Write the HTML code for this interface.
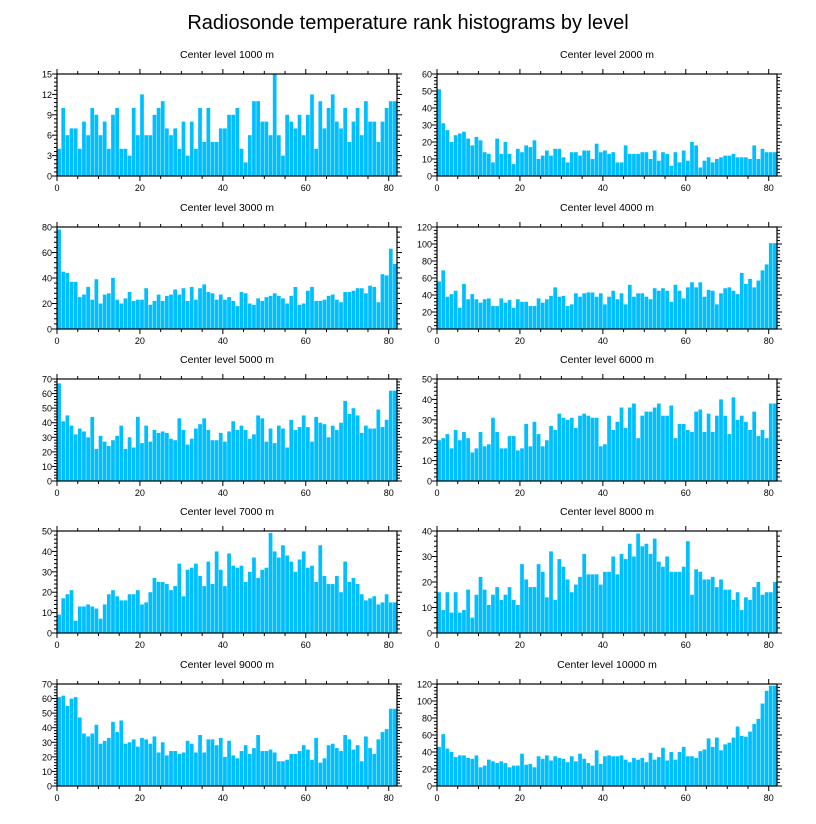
<!DOCTYPE html>
<html><head><meta charset="utf-8"><style>
body{margin:0;background:#fff;}
svg{display:block;font-family:"Liberation Sans",sans-serif;}
</style></head><body>
<svg id="chart" width="816" height="824" viewBox="0 0 816 824" xmlns="http://www.w3.org/2000/svg">
<text x="408" y="29" text-anchor="middle" font-size="20">Radiosonde temperature rank histograms by level</text>
</svg>
<script>
const levels = ["1000","2000","3000","4000","5000","6000","7000","8000","9000","10000"];
const yMaxes = [15,60,80,120,70,50,50,40,70,120];
const ySteps = [3,10,20,20,10,10,10,10,10,20];
const xTicks = [0,20,40,60,80];
const s1000 = [4,10,6,7,7,4,8,6,10,9,6,8,4,9,10,4,4,3,10,6,12,6,6,9,10,11,7,6,7,4,8,3,8,4,10,5,10,5,5,7,7,9,9,10,4,2,6,11,11,8,8,6,15,6,3,9,8,7,9,6,9,12,4,11,7,10,12,8,7,10,5,8,10,6,11,8,8,5,8,10,11,11];
const s2000 = [51,31,27,20,24,25,26,22,18,23,21,14,13,8,22,13,20,13,7,16,14,18,17,21,10,12,15,12,16,16,11,8,14,14,12,15,15,10,19,14,15,13,14,8,8,18,13,13,13,14,14,10,15,9,14,13,6,14,8,15,9,20,18,5,9,11,8,10,11,12,12,13,11,11,11,10,18,10,16,14,14,14];
const s3000 = [78,45,44,37,37,25,27,33,23,39,20,27,28,40,23,20,24,29,22,23,23,32,19,22,27,22,26,27,31,27,32,22,33,23,32,35,29,28,23,27,23,25,22,18,29,28,20,19,24,22,25,26,28,26,24,20,26,33,19,20,30,33,22,22,23,26,27,23,21,29,29,30,32,32,28,34,33,21,43,42,63,51];
const s4000 = [56,69,38,41,45,25,53,35,41,35,31,35,36,27,27,36,31,34,25,35,32,32,27,27,36,31,35,39,49,38,39,27,29,42,38,42,43,43,38,42,29,38,45,35,42,29,52,38,42,42,38,35,48,45,48,45,32,52,45,36,49,55,49,55,38,46,45,29,42,48,49,45,41,66,53,59,49,57,69,76,101,101];
const s5000 = [67,41,45,38,32,36,34,30,44,22,31,27,24,28,31,38,22,30,23,44,26,38,27,35,33,34,33,29,28,43,35,25,29,36,39,43,35,28,28,33,27,34,41,35,38,35,29,32,45,43,27,36,26,38,36,23,42,35,37,45,37,27,44,40,39,30,38,35,40,55,46,50,45,33,38,36,36,49,37,42,62,62];
const s6000 = [20,21,23,16,25,20,24,21,14,16,24,17,18,31,24,16,16,22,22,15,16,28,17,29,23,17,20,27,25,33,31,30,31,26,32,33,32,31,31,17,18,32,25,29,36,26,36,38,21,32,34,34,36,38,32,32,37,21,28,28,25,24,34,35,24,33,24,32,40,32,23,41,30,32,29,25,34,22,25,21,38,38];
const s7000 = [9,17,19,21,6,13,13,14,13,12,7,14,19,21,18,16,16,19,19,21,14,15,20,27,25,25,24,21,23,34,18,31,32,34,28,23,35,24,40,31,23,39,33,32,33,25,30,37,27,31,32,49,40,37,43,38,35,30,36,40,32,33,25,43,28,24,24,28,20,35,25,27,24,19,16,17,18,14,15,19,15,15];
const s8000 = [16,9,16,8,16,8,9,17,6,15,22,17,11,15,18,13,15,18,13,11,27,21,18,18,27,24,14,32,13,29,26,21,16,19,22,31,23,23,23,19,24,24,30,23,31,29,35,30,39,34,35,31,37,28,26,30,24,24,24,26,36,15,25,24,21,21,22,18,21,17,17,13,16,9,14,13,18,20,15,16,16,20];
const s9000 = [61,62,55,60,61,47,36,34,36,42,29,31,33,44,37,45,29,30,32,27,33,32,29,34,23,30,21,24,24,22,23,31,29,23,35,23,32,32,28,33,20,31,21,19,24,28,22,26,35,24,24,25,23,17,17,18,22,22,24,28,25,18,33,16,19,28,29,26,24,35,32,25,28,17,34,26,22,32,37,39,53,53];
const s10000 = [46,61,44,40,34,36,36,33,32,36,22,24,31,29,27,29,27,22,24,24,38,25,26,22,35,32,36,30,35,33,32,28,35,29,38,32,27,24,42,26,35,36,35,35,36,31,28,33,31,33,28,39,31,34,45,30,40,31,40,46,35,35,33,41,43,56,46,57,42,49,51,57,70,59,58,64,73,79,97,112,118,118];
const allSeries = [s1000,s2000,s3000,s4000,s5000,s6000,s7000,s8000,s9000,s10000];

const NS = "http://www.w3.org/2000/svg";
const svg = document.getElementById("chart");
function mk(tag, attrs, parent){
  const e = document.createElementNS(NS, tag);
  for (const k in attrs) e.setAttribute(k, attrs[k]);
  (parent||svg).appendChild(e);
  return e;
}
const XMAX = 82, W = 340, H = 102;
const lefts = [57, 437];
const tops = [74, 227, 379, 531, 684];

allSeries.forEach((data, p) => {
  const px = lefts[p % 2], py = tops[Math.floor(p / 2)];
  const yMax = yMaxes[p], yStep = ySteps[p];
  const xs = v => px + v / XMAX * W;
  const ys = v => py + H - v / yMax * H;
  const g = mk("g", {});
  
  
  const t = mk("text", {x: px + W / 2, y: py - 16, "text-anchor": "middle", "font-size": "10.5"}, g);
  t.textContent = "Center level " + levels[p] + " m";
  
  
  data.forEach((v, i) => {
    const r = mk("rect", {x: xs(i + 0.05), y: ys(v), width: xs(0.9) - px, height: ys(0) - ys(v), fill: "#00bfff"}, g);
    
    
  });
  const fr = mk("rect", {x: px, y: py, width: W, height: H, fill: "none", stroke: "#000", "stroke-width": 1.2}, g);
  
  
  // x ticks
  for (let v = 0; v <= XMAX; v += 5) {
    const major = v % 20 === 0, len = major ? 5 : 3;
    mk("line", {x1: xs(v), x2: xs(v), y1: py + H, y2: py + H + len, stroke: "#000", "stroke-width": 1}, g);
    mk("line", {x1: xs(v), x2: xs(v), y1: py, y2: py - len, stroke: "#000", "stroke-width": 1}, g);
  }
  xTicks.forEach(v => {
    const l = mk("text", {x: xs(v), y: py + H + 15, "text-anchor": "middle", "font-size": "9"}, g);
    l.textContent = v;
    
    
  });
  // y ticks
  const minor = yStep / 5;
  for (let k = 0; k * minor <= yMax + 1e-9; k++) {
    const v = k * minor, major = k % 5 === 0, len = major ? 5 : 3;
    mk("line", {x1: px, x2: px - len, y1: ys(v), y2: ys(v), stroke: "#000", "stroke-width": 1}, g);
    mk("line", {x1: px + W, x2: px + W + len, y1: ys(v), y2: ys(v), stroke: "#000", "stroke-width": 1}, g);
  }
  for (let v = 0; v <= yMax + 1e-9; v += yStep) {
    const l = mk("text", {x: px - 5, y: ys(v) + 3.5, "text-anchor": "end", "font-size": "9"}, g);
    l.textContent = v;
    
    
  }
});
</script>
</body></html>
